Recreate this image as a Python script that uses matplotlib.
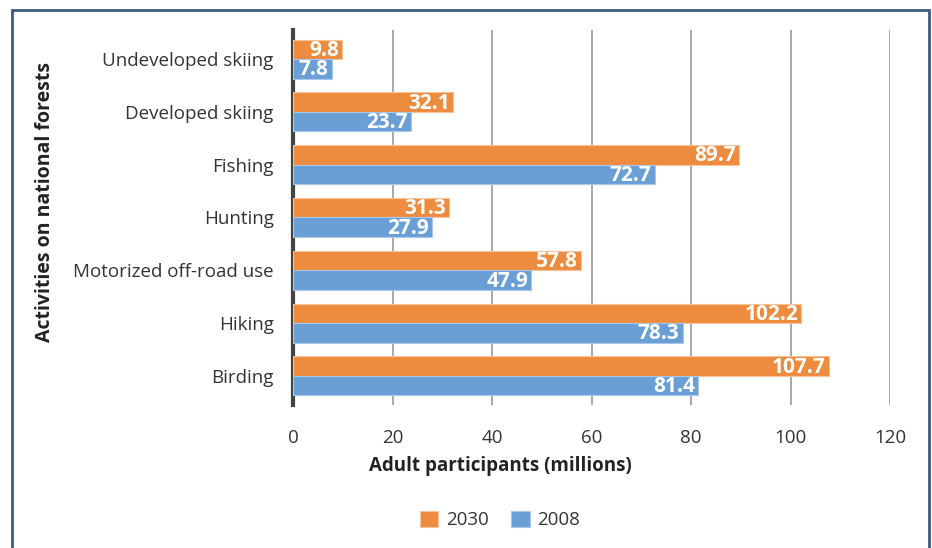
import matplotlib
matplotlib.use("Agg")
import matplotlib.pyplot as plt
import numpy as np
from matplotlib.patches import Rectangle

plt.rcParams['font.family'] = ['Open Sans', 'DejaVu Sans']

categories = ["Undeveloped skiing", "Developed skiing", "Fishing", "Hunting",
              "Motorized off-road use", "Hiking", "Birding"]
v2030 = [9.8, 32.1, 89.7, 31.3, 57.8, 102.2, 107.7]
v2008 = [7.8, 23.7, 72.7, 27.9, 47.9, 78.3, 81.4]
xticks = [0, 20, 40, 60, 80, 100, 120]

c2030 = "#ed8b3f"
c2008 = "#6a9fd6"

W, H = 932, 548
fig = plt.figure(figsize=(W/100, H/100), dpi=100)
ax = fig.add_axes([293/W, 1-405/H, (890-293)/W, (405-30)/H])

n = len(categories)
y = np.arange(n)
h = 0.37
b1 = ax.barh(y - h/2, v2030, height=h, color=c2030, edgecolor="#f6c39a", linewidth=0.8, label="2030", zorder=3)
b2 = ax.barh(y + h/2, v2008, height=h, color=c2008, edgecolor="#a9c8ea", linewidth=0.8, label="2008", zorder=3)

for bars, vals in ((b1, v2030), (b2, v2008)):
    for rect, v in zip(bars, vals):
        ax.text(rect.get_width() - 0.6, rect.get_y() + rect.get_height()/2 + 0.02, f"{v}",
                ha="right", va="center", color="white", fontsize=15, fontweight="bold", zorder=4)

ax.set_ylim(n - 0.5 + 0.05, -0.5 - 0.05)
ax.set_xlim(0, 120)
ax.set_xticks(xticks)
ax.set_xticklabels([str(t) for t in xticks], fontsize=13.5, color="#333333")
ax.set_yticks(y)
ax.set_yticklabels(categories, fontsize=13.5, color="#333333")
ax.tick_params(axis="y", length=0, pad=14)
ax.tick_params(axis="x", length=0, pad=17)
ax.xaxis.grid(True, color="#9a9a9a", linewidth=1.2, zorder=0)
ax.set_axisbelow(True)
for s in ["top", "right", "bottom"]:
    ax.spines[s].set_visible(False)
ax.spines["left"].set_color("#444444")
ax.spines["left"].set_linewidth(3)

fig.text(500/W, 1-466/H, "Adult participants (millions)", ha="center", va="center",
         fontsize=13.5, fontweight="bold", color="#222222")
fig.text(45/W, 1-202/H, "Activities on national forests", ha="center", va="center", rotation=90,
         fontsize=14, fontweight="bold", color="#222222")

leg = fig.legend(handles=[b1, b2], labels=["2030", "2008"], loc="center", bbox_to_anchor=(500/W, 1-520/H),
                 ncol=2, frameon=False, fontsize=13.5, handlelength=1.0, handleheight=1.0,
                 columnspacing=1.2, handletextpad=0.4)
for t in leg.get_texts():
    t.set_color("#333333")

# outer frame
frame = Rectangle((12/W, -0.05), (929-12)/W, (1-10/H) + 0.05, transform=fig.transFigure,
                  fill=False, edgecolor="#3d5a80", linewidth=2, clip_on=False)
fig.patches.append(frame)

fig.savefig("out.png", dpi=100)
